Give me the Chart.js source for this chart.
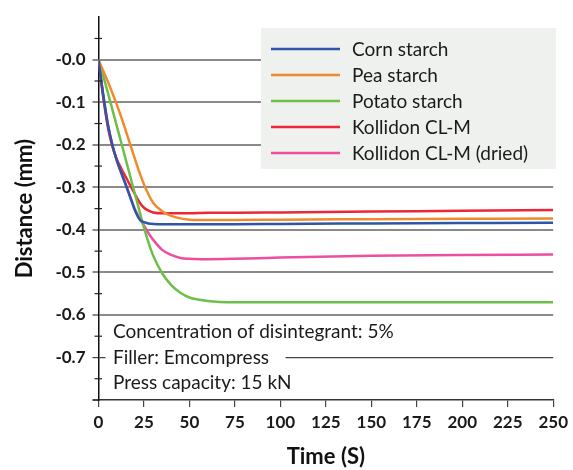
<!DOCTYPE html>
<html>
<head>
<meta charset="utf-8">
<script src="https://cdn.jsdelivr.net/npm/chart.js@4"></script>
<style>
html,body{margin:0;padding:0;background:#fff;}
#wrap{width:573px;height:470px;position:relative;}
</style>
</head>
<body>
<div id="wrap"><canvas id="c" width="573" height="470"></canvas></div>
<script>
// ---- data ----
const times = [0, 2.5, 5, 7.5, 10, 12.5, 15, 17.5, 20, 22.5, 25, 27.5, 30, 35, 40, 45, 50, 60, 75, 100, 150, 200, 250];
const cornStarch   = [0, -0.08, -0.148, -0.198, -0.236, -0.266, -0.294, -0.324, -0.354, -0.375, -0.382, -0.385, -0.386, -0.387, -0.387, -0.387, -0.387, -0.387, -0.387, -0.386, -0.385, -0.384, -0.383];
const peaStarch    = [0, -0.025, -0.05, -0.077, -0.105, -0.135, -0.167, -0.2, -0.233, -0.265, -0.293, -0.317, -0.336, -0.356, -0.367, -0.373, -0.376, -0.377, -0.377, -0.376, -0.375, -0.374, -0.373];
const potatoStarch = [0, -0.037, -0.075, -0.115, -0.155, -0.195, -0.235, -0.275, -0.315, -0.355, -0.395, -0.43, -0.46, -0.502, -0.53, -0.548, -0.559, -0.567, -0.57, -0.57, -0.57, -0.57, -0.57];
const kollidon     = [0, -0.085, -0.155, -0.202, -0.233, -0.256, -0.276, -0.296, -0.316, -0.335, -0.348, -0.355, -0.359, -0.361, -0.361, -0.361, -0.361, -0.36, -0.36, -0.359, -0.357, -0.355, -0.353];
const kollidonDried= [0, -0.08, -0.148, -0.198, -0.236, -0.266, -0.294, -0.323, -0.351, -0.372, -0.39, -0.408, -0.423, -0.447, -0.459, -0.466, -0.468, -0.469, -0.468, -0.465, -0.461, -0.459, -0.458];
const seriesLabels = ['Corn starch', 'Pea starch', 'Potato starch', 'Kollidon CL-M', 'Kollidon CL-M (dried)'];
const seriesColors = ['#2d57a6', '#f08a2c', '#6dbf47', '#ec2838', '#ec4f9f'];
const xTicks = [0, 25, 50, 75, 100, 125, 150, 175, 200, 225, 250];
const yTickLabels = ['-0.0', '-0.1', '-0.2', '-0.3', '-0.4', '-0.5', '-0.6', '-0.7'];
const notes = ['Concentration of disintegrant: 5%', 'Filler: Emcompress', 'Press capacity: 15 kN'];

const allSeries = [cornStarch, peaStarch, potatoStarch, kollidon, kollidonDried];
const FONT = 'Lato, "Open Sans", sans-serif';

const datasets = allSeries.map((arr, i) => ({
  label: seriesLabels[i],
  data: times.map((t, j) => ({x: t, y: arr[j]})),
  borderColor: seriesColors[i],
  backgroundColor: seriesColors[i],
  borderWidth: 2.5,
  pointRadius: 0,
  cubicInterpolationMode: 'monotone',
  fill: false
}));

function hund(v){ return Math.round(v * 100); }

const overlay = {
  id: 'overlay',
  beforeDatasetsDraw(chart) {
    const ctx = chart.ctx;
    const ys = chart.scales.y, xs = chart.scales.x;
    ctx.save();
    // legend box
    ctx.fillStyle = '#eff1ee';
    ctx.fillRect(261, 28, 295, 141);
    ctx.font = '19px ' + FONT;
    ctx.textBaseline = 'middle';
    ctx.textAlign = 'left';
    seriesLabels.forEach((lab, i) => {
      const y = 49 + i * 26;
      ctx.strokeStyle = seriesColors[i];
      ctx.lineWidth = 2.5;
      ctx.beginPath(); ctx.moveTo(271, y); ctx.lineTo(340, y); ctx.stroke();
      ctx.fillStyle = '#1a1a1a';
      ctx.fillText(lab, 352, y + 1);
    });
    // notes box
    const y7 = ys.getPixelForValue(-0.7);
    ctx.fillStyle = '#ffffff';
    ctx.fillRect(xs.left + 7, ys.getPixelForValue(-0.6) + 3, 180, 80);
    ctx.fillStyle = '#1a1a1a';
    ctx.font = '19px ' + FONT;
    notes.forEach((n, i) => {
      ctx.fillText(n, 113, y7 + (i - 1) * 25.5);
    });
    ctx.restore();
  },
  afterDraw(chart) {
    const ctx = chart.ctx;
    const ys = chart.scales.y;
    const x0 = chart.chartArea.left;
    ctx.save();
    ctx.strokeStyle = '#222';
    ctx.lineWidth = 1.2;
    for (let k = -75; k <= 5; k += 10) {
      const py = ys.getPixelForValue(k / 100);
      ctx.beginPath(); ctx.moveTo(x0 - 4, py); ctx.lineTo(x0 + 3.5, py); ctx.stroke();
    }
    ctx.restore();
  }
};

new Chart(document.getElementById('c'), {
  type: 'line',
  data: { datasets },
  plugins: [overlay],
  options: {
    responsive: false,
    animation: false,
    devicePixelRatio: 1,
    layout: { padding: { top: 12, right: 17, left: 0, bottom: 0 } },
    plugins: { legend: { display: false }, tooltip: { enabled: false } },
    scales: {
      x: {
        type: 'linear', min: 0, max: 250,
        afterBuildTicks(scale) { scale.ticks = xTicks.map(v => ({value: v})); },
        afterFit(scale) { scale.height = 70; },
        ticks: { font: { family: FONT, size: 17, weight: 'bold' }, color: '#1a1a1a', padding: 5, maxRotation: 0 },
        grid: { drawOnChartArea: false, drawTicks: true, tickLength: 7, tickColor: '#444', lineWidth: 1.2 },
        border: { display: true, color: '#333', width: 1.5 },
        title: { display: true, text: 'Time (S)', font: { family: FONT, size: 22, weight: 'bold' }, color: '#111', padding: { top: 0, bottom: 0 } }
      },
      y: {
        type: 'linear', min: -0.8, max: 0.1,
        afterBuildTicks(scale) {
          const t = [];
          for (let k = -80; k <= 10; k += 10) t.push({value: k / 100});
          scale.ticks = t;
        },
        afterFit(scale) { scale.width = 98.5; },
        ticks: {
          font: { family: FONT, size: 17, weight: 'bold' }, color: '#1a1a1a', padding: 7,
          callback(v) { const h = hund(v); if (h <= 0 && h >= -70) return yTickLabels[-h / 10]; return ''; }
        },
        grid: {
          drawTicks: true, tickLength: 6,
          color(c) { const h = hund(c.tick.value); if (h <= 0 && h >= -60) return '#8a8a8a'; if (h === -70) return '#444'; return 'rgba(0,0,0,0)'; },
          lineWidth(c) { const h = hund(c.tick.value); return h === -70 ? 1.2 : 2; },
          tickColor(c) { const h = hund(c.tick.value); if (h <= 0 && h >= -60) return '#8a8a8a'; if (h <= -70) return '#444'; return 'rgba(0,0,0,0)'; }
        },
        border: { display: true, color: '#111', width: 1.5 },
        title: { display: true, text: 'Distance (mm)', font: { family: FONT, size: 22, weight: 'bold' }, color: '#111', padding: { top: 12, bottom: 0 } }
      }
    }
  }
});
</script>
</body>
</html>
